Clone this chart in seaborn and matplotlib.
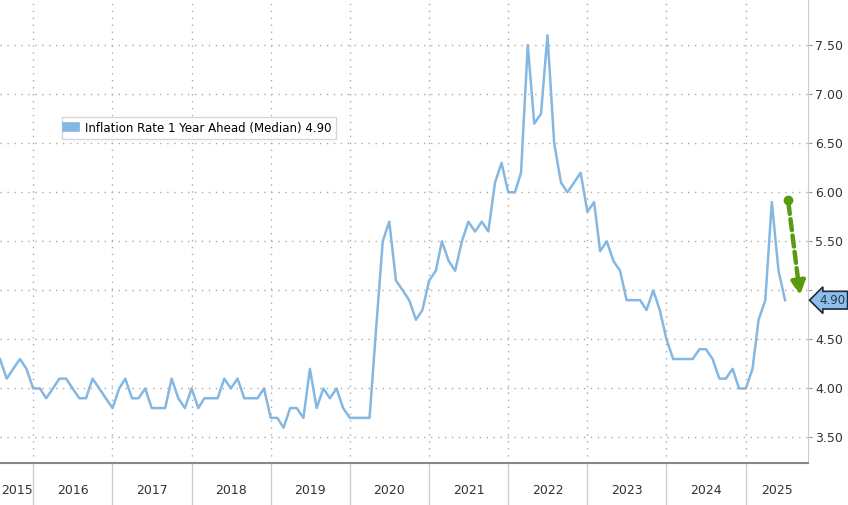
import matplotlib
matplotlib.use("Agg")
import matplotlib.pyplot as plt
import seaborn as sns
import pandas as pd
import numpy as np

values = [4.3,4.1,4.2,4.3,4.2,
 4.0,4.0,3.9,4.0,4.1,4.1,4.0,3.9,3.9,4.1,4.0,3.9,
 3.8,4.0,4.1,3.9,3.9,4.0,3.8,3.8,3.8,4.1,3.9,3.8,
 4.0,3.8,3.9,3.9,3.9,4.1,4.0,4.1,3.9,3.9,3.9,4.0,
 3.7,3.7,3.6,3.8,3.8,3.7,4.2,3.8,4.0,3.9,4.0,3.8,
 3.7,3.7,3.7,3.7,4.6,5.5,5.7,5.1,5.0,4.9,4.7,4.8,
 5.1,5.2,5.5,5.3,5.2,5.5,5.7,5.6,5.7,5.6,6.1,6.3,
 6.0,6.0,6.2,7.5,6.7,6.8,7.6,6.5,6.1,6.0,6.1,6.2,
 5.8,5.9,5.4,5.5,5.3,5.2,4.9,4.9,4.9,4.8,5.0,4.8,
 4.5,4.3,4.3,4.3,4.3,4.4,4.4,4.3,4.1,4.1,4.2,4.0,
 4.0,4.2,4.7,4.9,5.9,5.2,4.9]
dates = pd.date_range("2015-08-01", periods=len(values), freq="MS")
years = list(range(2015, 2026))
yticks = [3.5,4.0,4.5,5.0,5.5,6.0,6.5,7.0,7.5]
series_name = "Inflation Rate 1 Year Ahead (Median)"
last_label = "4.90"

df = pd.DataFrame({"date": dates, "value": values})

fig = plt.figure(figsize=(8.48,5.05), dpi=100)
ax = fig.add_axes([0, 42/505, 808/848, 463/505])
sns.lineplot(data=df, x="date", y="value", ax=ax, color="#84b8e2", linewidth=1.8, label=f"{series_name} {last_label}")

xl = (pd.Timestamp("2015-08-01"), pd.Timestamp("2025-10-15"))
ax.set_xlim(*xl)
ax.set_ylim(3.24, 7.96)
ax.yaxis.tick_right()
ax.set_yticks(yticks)
ax.set_yticklabels([("" if v == 5.0 else f"{v:.2f}") for v in yticks], fontsize=9, color="#333333")
ax.tick_params(axis="y", length=3, color="#999999", pad=2)
bounds = [pd.Timestamp(f"{y}-01-01") for y in years[1:]]
ax.set_xticks(bounds)
ax.set_xticklabels([])
ax.tick_params(axis="x", length=0)
ax.grid(True, color="#aaaaaa", linestyle=(0,(1,4)), linewidth=1)
for s in ["top","left"]:
    ax.spines[s].set_visible(False)
ax.spines["right"].set_color("#cccccc")
ax.spines["bottom"].set_color("#888888")
ax.spines["bottom"].set_linewidth(1.5)
ax.set_xlabel(""); ax.set_ylabel("")

xn = lambda d: (matplotlib.dates.date2num(d) - matplotlib.dates.date2num(xl[0])) / (matplotlib.dates.date2num(xl[1]) - matplotlib.dates.date2num(xl[0]))
edges = [pd.Timestamp("2015-08-01")] + bounds + [pd.Timestamp("2025-10-15")]
for i, y in enumerate(years):
    c = xn(edges[i]) + (xn(edges[i+1]) - xn(edges[i])) / 2
    ax.text(c, -0.06, str(y), transform=ax.transAxes, ha="center", va="center", fontsize=9, color="#333333")
for b in bounds:
    ax.plot([xn(b), xn(b)], [0, -0.09], transform=ax.transAxes, color="#cccccc", lw=1, clip_on=False)

leg = ax.legend(loc="upper left", bbox_to_anchor=(0.07, 0.76), fontsize=8.5, frameon=True,
                handlelength=0.7, handleheight=0.9, fancybox=False, borderpad=0.4)
leg.get_frame().set_edgecolor("#cccccc")
for h in leg.legend_handles:
    h.set_linewidth(7)

ax.annotate(last_label, xy=(1.0, 4.9), xycoords=("axes fraction","data"), xytext=(8, 0), textcoords="offset points",
            va="center", ha="left", fontsize=8.5, color="#1a3a5a",
            bbox=dict(boxstyle="larrow,pad=0.2", fc="#8fbfe8", ec="#1a2a40", lw=1.2), annotation_clip=False)

ax.annotate("", xy=(pd.Timestamp("2025-09-10"), 4.92), xytext=(pd.Timestamp("2025-07-15"), 5.92),
            arrowprops=dict(arrowstyle="-|>", color="#5a9a10", lw=3.2, linestyle=(0,(2.5,1.2)), mutation_scale=20))
ax.plot([pd.Timestamp("2025-07-15")], [5.92], "o", color="#5a9a10", ms=6)

fig.savefig("out.png", dpi=100)
